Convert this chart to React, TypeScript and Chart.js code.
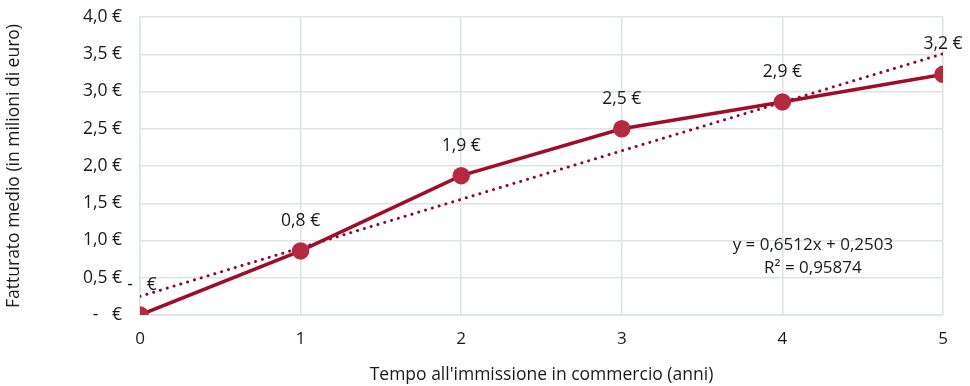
import React, { useEffect, useRef } from "react";
import { Chart, registerables } from "chart.js";

Chart.register(...registerables);

const years = [0, 1, 2, 3, 4, 5];
const revenue = [0.0, 0.86, 1.87, 2.5, 2.86, 3.23];
const valueLabels = ["-   €", "0,8 €", "1,9 €", "2,5 €", "2,9 €", "3,2 €"];
const trendSlope = 0.6512;
const trendIntercept = 0.2503;
const trendText = ["y = 0,6512x + 0,2503", "R² = 0,95874"];
const xTitle = "Tempo all'immissione in commercio (anni)";
const yTitle = "Fatturato medio (in milioni di euro)";

const FONT = "'Open Sans', 'Noto Sans', sans-serif";

const labelPlugin = {
  id: "labelsAndTrendText",
  afterDatasetsDraw(chart: any) {
    const ctx = chart.ctx;
    const xs = chart.scales.x;
    const ys = chart.scales.y;
    ctx.save();
    ctx.font = `17.5px ${FONT}`;
    ctx.fillStyle = "#1a1a1a";
    ctx.textAlign = "center";
    ctx.textBaseline = "middle";
    years.forEach((x, i) => {
      const px = xs.getPixelForValue(x);
      const py = ys.getPixelForValue(revenue[i]);
      ctx.fillText(valueLabels[i], px + (i === 0 ? 2 : 0), py - 30);
    });
    ctx.font = `17px ${FONT}`;
    const tx = xs.getPixelForValue(4.19);
    ctx.fillText(trendText[0], tx, ys.getPixelForValue(0.94));
    ctx.fillText(trendText[1], tx, ys.getPixelForValue(0.63));
    ctx.restore();
  },
};

export default function App() {
  const ref = useRef<HTMLCanvasElement>(null);
  useEffect(() => {
    if (!ref.current) return;
    const trendData = [0, 5].map((x) => ({ x, y: trendSlope * x + trendIntercept }));
    const chart = new Chart(ref.current, {
      type: "scatter",
      data: {
        datasets: [
          {
            label: "Trend",
            data: trendData,
            showLine: true,
            borderColor: "#8a0c2e",
            borderWidth: 3,
            borderDash: [0.1, 7],
            borderCapStyle: "round",
            pointRadius: 0,
            order: 2,
          } as any,
          {
            label: "Fatturato",
            data: years.map((x, i) => ({ x, y: revenue[i] })),
            showLine: true,
            borderColor: "#a00d28",
            borderWidth: 3.5,
            pointRadius: 7,
            pointBackgroundColor: "#b52a40",
            pointBorderColor: "#b52a40",
            order: 1,
          },
        ],
      },
      options: {
        animation: false,
        responsive: false,
        maintainAspectRatio: false,
        layout: { padding: { left: 4, right: 27, top: 17, bottom: 0 } },
        plugins: { legend: { display: false }, tooltip: { enabled: false } },
        scales: {
          x: {
            type: "linear",
            min: 0,
            max: 5,
            afterFit: (s: any) => { s.height = 71; s.paddingLeft = 0; s.paddingRight = 0; },
            ticks: { stepSize: 1, padding: 14, color: "#1a1a1a", font: { family: FONT, size: 17 } },
            grid: { color: "#dde3e3", lineWidth: 1.5, drawTicks: false },
            border: { color: "#dde3e3", width: 1.5 },
            title: { display: true, text: xTitle, color: "#1a1a1a", font: { family: FONT, size: 17.5 }, padding: { top: 14, bottom: 0 } },
          },
          y: {
            min: 0,
            max: 4,
            afterFit: (s: any) => { s.width = 136; s.paddingTop = 0; s.paddingBottom = 0; },
            ticks: {
              stepSize: 0.5,
              padding: 18,
              color: "#1a1a1a",
              font: { family: FONT, size: 17.5 },
              callback: (v: any) => (v === 0 ? "-   €" : Number(v).toFixed(1).replace(".", ",") + " €"),
            },
            grid: { color: "#dde3e3", lineWidth: 1.5, drawTicks: false },
            border: { color: "#dde3e3", width: 1.5 },
            title: { display: true, text: yTitle, color: "#1a1a1a", font: { family: FONT, size: 17.5 }, padding: { top: 0, bottom: 0 } },
          },
        },
      },
      plugins: [labelPlugin],
    });
    return () => chart.destroy();
  }, []);
  return (
    <div style={{ position: "absolute", left: 0, top: 0, width: 970, height: 386, background: "#fff" }}>
      <canvas ref={ref} width={970} height={386} style={{ width: 970, height: 386 }} />
    </div>
  );
}
